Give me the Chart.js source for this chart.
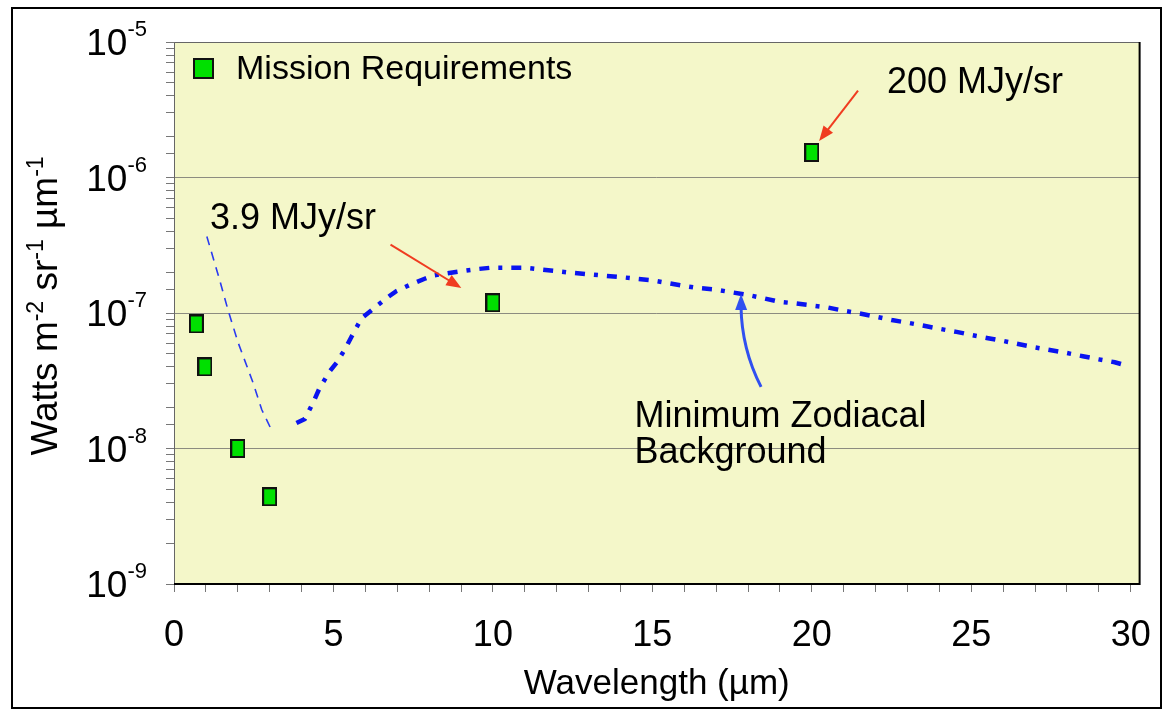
<!DOCTYPE html>
<html>
<head>
<meta charset="utf-8">
<script src="https://cdn.jsdelivr.net/npm/chart.js@4/dist/chart.umd.min.js"></script>
<style>
  html, body { margin: 0; padding: 0; background: #fff; }
  #wrap { width: 1173px; height: 716px; }
</style>
</head>
<body>
<div id="wrap"><canvas id="zodi" width="1173" height="716"></canvas></div>
<script>
// Mission requirement points (wavelength um, W m-2 sr-1 um-1)
const reqWavelength = [0.7, 0.97, 2.0, 3.0, 10.0, 20.0];
const reqRadiance = [8.3e-8, 4.0e-8, 1.0e-8, 4.4e-9, 1.19e-7, 1.53e-6];

// Short-wavelength (scattered light) part of the zodiacal curve, thin dashes
const zodiNirWavelength = [1.03, 1.42, 1.70, 2.01, 2.48, 2.75, 3.07];
const zodiNirRadiance = [3.67e-7, 1.79e-7, 1.04e-7, 6.05e-8, 3.05e-8, 1.94e-8, 1.35e-8];

// Thermal part of the minimum zodiacal background
const zodiWavelength = [3.84, 4.10, 4.36, 4.57, 4.89, 5.10, 5.36, 5.57, 5.88, 6.24,
  6.71, 6.97, 7.39, 7.86, 8.12, 8.96, 9.43, 9.95, 10.47, 10.99,
  11.46, 11.99, 12.47, 13.45, 14.02, 14.49, 15.01, 16.03, 16.42, 16.97,
  17.99, 18.46, 18.98, 19.45, 20.49, 20.99, 21.48, 22.01, 22.51, 23.02,
  23.52, 24.01, 24.54, 25.03, 25.53, 26.00, 26.96, 27.99, 28.50, 29.00,
  29.50, 29.92];
const zodiRadiance = [1.54e-8, 1.65e-8, 2.17e-8, 2.81e-8, 3.73e-8, 4.30e-8, 5.40e-8, 6.71e-8, 9.13e-8, 1.07e-7,
  1.31e-7, 1.45e-7, 1.61e-7, 1.79e-7, 1.89e-7, 2.03e-7, 2.10e-7, 2.16e-7, 2.16e-7, 2.16e-7,
  2.10e-7, 2.04e-7, 1.98e-7, 1.89e-7, 1.84e-7, 1.79e-7, 1.74e-7, 1.58e-7, 1.53e-7, 1.49e-7,
  1.36e-7, 1.29e-7, 1.21e-7, 1.18e-7, 1.10e-7, 1.04e-7, 9.95e-8, 9.39e-8, 8.87e-8, 8.47e-8,
  8.05e-8, 7.64e-8, 7.26e-8, 6.87e-8, 6.52e-8, 6.22e-8, 5.59e-8, 5.07e-8, 4.80e-8, 4.55e-8,
  4.33e-8, 4.06e-8];

// Axis ticks
const xTickLabels = [0, 5, 10, 15, 20, 25, 30];
const xMinorStep = 1;
const yTickExponents = [-9, -8, -7, -6, -5];

const FONT = '"Liberation Sans", Arial, Helvetica, sans-serif';
const PLOT_BG = '#f4f7c9';
const LINE_BLUE = '#0a14f0';
const RED = '#f03c20';

// Annotation anchors in data coordinates
const notes = {
  lowLabel: { text: '3.9 MJy/sr', x: 1.13, y: 4.14e-7 },
  lowArrow: { from: [6.79, 3.2e-7], to: [9.01, 1.53e-7] },
  highLabel: { text: '200 MJy/sr', x: 22.36, y: 4.17e-6 },
  highArrow: { from: [21.45, 4.38e-6], to: [20.23, 1.86e-6] },
  zodiLabel: { lines: ['Minimum Zodiacal', 'Background'], x: 14.44, y: [1.45e-8, 7.8e-9] },
  zodiArrow: { from: [18.41, 2.85e-8], ctrl: [17.80, 5.4e-8], to: [17.78, 1.38e-7] },
};

// green rectangle marker
function makeMarker(w, h) {
  const c = document.createElement('canvas');
  c.width = w; c.height = h;
  const g = c.getContext('2d');
  g.fillStyle = '#00e000';
  g.fillRect(0, 0, w, h);
  g.strokeStyle = '#111';
  g.lineWidth = 2;
  g.strokeRect(1, 1, w - 2, h - 2);
  return c;
}

function toPts(xs, ys) {
  return xs.map((x, i) => ({ x, y: ys[i] }));
}

function arrowHead(ctx, x0, y0, x1, y1, len, half) {
  const a = Math.atan2(y1 - y0, x1 - x0);
  ctx.beginPath();
  ctx.moveTo(x1, y1);
  ctx.lineTo(x1 - len * Math.cos(a) + half * Math.sin(a), y1 - len * Math.sin(a) - half * Math.cos(a));
  ctx.lineTo(x1 - len * Math.cos(a) - half * Math.sin(a), y1 - len * Math.sin(a) + half * Math.cos(a));
  ctx.closePath();
  ctx.fill();
}

// text with superscripts: parts = [[text, isSup], ...]
function partsWidth(ctx, parts, size, supSize) {
  let w = 0;
  for (const [t, sup] of parts) {
    ctx.font = `${sup ? supSize : size}px ${FONT}`;
    w += ctx.measureText(t).width;
  }
  return w;
}
function drawParts(ctx, parts, x, y, size, supSize, supRise) {
  for (const [t, sup] of parts) {
    ctx.font = `${sup ? supSize : size}px ${FONT}`;
    ctx.fillText(t, x, sup ? y - supRise : y);
    x += ctx.measureText(t).width;
  }
}

const decor = {
  id: 'decor',
  beforeDraw(chart) {
    const { ctx, chartArea: a } = chart;
    ctx.save();
    ctx.fillStyle = '#fff';
    ctx.fillRect(0, 0, chart.width, chart.height);
    ctx.fillStyle = PLOT_BG;
    ctx.fillRect(a.left, a.top, a.right - a.left, a.bottom - a.top);
    ctx.restore();
  },
  afterDraw(chart) {
    const { ctx, chartArea: a } = chart;
    const xs = chart.scales.x, ys = chart.scales.y;
    const px = (v) => xs.getPixelForValue(v);
    const py = (v) => ys.getPixelForValue(v);
    ctx.save();

    // plot frame
    ctx.strokeStyle = '#666';
    ctx.lineWidth = 1;
    ctx.beginPath();
    ctx.moveTo(a.left + 0.5, a.bottom);
    ctx.lineTo(a.left + 0.5, a.top + 0.5);
    ctx.lineTo(a.right, a.top + 0.5);
    ctx.stroke();
    ctx.strokeStyle = '#000';
    ctx.lineWidth = 2;
    ctx.beginPath();
    ctx.moveTo(a.right, a.top);
    ctx.lineTo(a.right, a.bottom);
    ctx.lineTo(a.left, a.bottom);
    ctx.stroke();

    // outer border
    ctx.lineWidth = 2;
    ctx.strokeRect(12, 8, 1149, 700);

    // y tick labels 10^n
    ctx.fillStyle = '#000';
    ctx.textBaseline = 'alphabetic';
    ctx.textAlign = 'left';
    yTickExponents.forEach((e) => {
      const y = py(Math.pow(10, e));
      const parts = [['10', false], [String(e), true]];
      const w = partsWidth(ctx, parts, 37, 22);
      drawParts(ctx, parts, 147 - w, y + 13, 37, 22, 19);
    });

    // y title
    const yParts = [['Watts m', false], ['-2', true], [' sr', false], ['-1', true], [' \u00b5m', false], ['-1', true]];
    ctx.save();
    ctx.translate(57, 306);
    ctx.rotate(-Math.PI / 2);
    const tw = partsWidth(ctx, yParts, 37, 23);
    drawParts(ctx, yParts, -tw / 2, 0, 37, 23, 14);
    ctx.restore();

    // legend
    ctx.drawImage(makeMarker(21, 21), a.left + 19, a.top + 16);
    ctx.font = `34px ${FONT}`;
    ctx.textBaseline = 'middle';
    ctx.fillText('Mission Requirements', a.left + 62, a.top + 28);

    // annotation texts
    ctx.textBaseline = 'alphabetic';
    ctx.font = `36px ${FONT}`;
    ctx.fillText(notes.lowLabel.text, px(notes.lowLabel.x), py(notes.lowLabel.y));
    ctx.fillText(notes.highLabel.text, px(notes.highLabel.x), py(notes.highLabel.y));
    notes.zodiLabel.lines.forEach((t, i) => ctx.fillText(t, px(notes.zodiLabel.x), py(notes.zodiLabel.y[i])));

    // red arrows
    ctx.strokeStyle = RED;
    ctx.fillStyle = RED;
    ctx.lineWidth = 2;
    for (const ar of [notes.lowArrow, notes.highArrow]) {
      const x0 = px(ar.from[0]), y0 = py(ar.from[1]), x1 = px(ar.to[0]), y1 = py(ar.to[1]);
      const ang = Math.atan2(y1 - y0, x1 - x0);
      ctx.beginPath();
      ctx.moveTo(x0, y0);
      ctx.lineTo(x1 - 10 * Math.cos(ang), y1 - 10 * Math.sin(ang));
      ctx.stroke();
      arrowHead(ctx, x0, y0, x1, y1, 15, 6);
    }

    // blue curved arrow
    const z = notes.zodiArrow;
    const bx0 = px(z.from[0]), by0 = py(z.from[1]);
    const bcx = px(z.ctrl[0]), bcy = py(z.ctrl[1]);
    const bx1 = px(z.to[0]), by1 = py(z.to[1]);
    ctx.strokeStyle = '#3050f0';
    ctx.fillStyle = '#3050f0';
    ctx.lineWidth = 3;
    ctx.beginPath();
    ctx.moveTo(bx0, by0);
    ctx.quadraticCurveTo(bcx, bcy, bx1, by1 + 12);
    ctx.stroke();
    arrowHead(ctx, bcx, bcy, bx1, by1, 16, 6);

    ctx.restore();
  },
};

new Chart(document.getElementById('zodi'), {
  type: 'scatter',
  data: {
    datasets: [
      {
        label: 'Zodiacal (scattered)',
        data: toPts(zodiNirWavelength, zodiNirRadiance),
        showLine: true,
        borderColor: '#2a3af0',
        borderWidth: 1.6,
        borderDash: [9, 7],
        pointRadius: 0,
        tension: 0,
      },
      {
        label: 'Minimum Zodiacal Background',
        data: toPts(zodiWavelength, zodiRadiance),
        showLine: true,
        borderColor: LINE_BLUE,
        borderWidth: 4.5,
        borderDash: [10, 9, 4, 9],
        pointRadius: 0,
        tension: 0,
      },
      {
        label: 'Mission Requirements',
        data: toPts(reqWavelength, reqRadiance),
        pointStyle: makeMarker(15, 19),
        pointRadius: 10,
        showLine: false,
      },
    ],
  },
  options: {
    responsive: false,
    animation: false,
    events: [],
    layout: { padding: { left: 0, top: 42, right: 32, bottom: 0 } },
    plugins: { legend: { display: false }, tooltip: { enabled: false } },
    scales: {
      x: {
        type: 'linear',
        min: 0,
        max: 30.28,
        border: { display: false },
        grid: { drawOnChartArea: false, drawTicks: true, tickLength: 8, tickColor: '#777', tickWidth: 1 },
        afterBuildTicks: (s) => {
          const last = xTickLabels[xTickLabels.length - 1];
          const ticks = [];
          for (let v = 0; v <= last; v += xMinorStep) ticks.push({ value: v });
          s.ticks = ticks;
        },
        afterFit: (s) => { s.height = 132; },
        ticks: {
          autoSkip: false,
          maxRotation: 0,
          padding: 22,
          color: '#000',
          font: { family: FONT, size: 36 },
          callback: (v) => (xTickLabels.includes(v) ? String(v) : ''),
        },
        title: {
          display: true,
          text: 'Wavelength (\u00b5m)',
          color: '#000',
          font: { family: FONT, size: 35 },
          padding: { top: 0, bottom: 11 },
        },
      },
      y: {
        type: 'logarithmic',
        min: 1e-9,
        max: 1e-5,
        border: { display: false },
        afterFit: (s) => { s.width = 174; },
        grid: {
          drawTicks: true,
          tickLength: 8,
          tickColor: '#777',
          lineWidth: 1,
          color: (c) => {
            const l = Math.log10(c.tick.value);
            return Math.abs(l - Math.round(l)) < 1e-6 ? '#8c8c80' : 'rgba(0,0,0,0)';
          },
        },
        ticks: { display: false },
      },
    },
  },
  plugins: [decor],
});
</script>
</body>
</html>
